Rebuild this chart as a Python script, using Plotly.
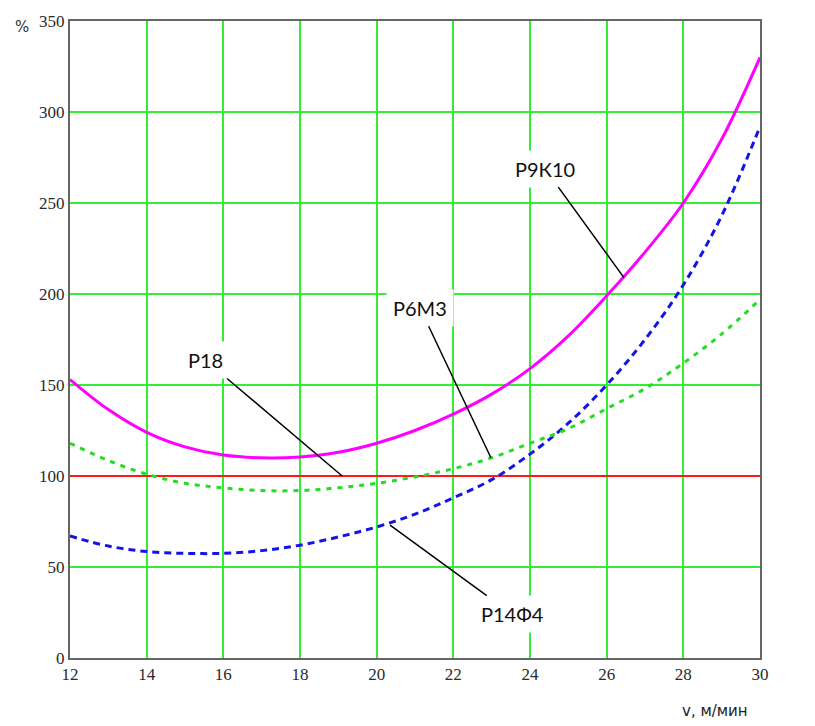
import plotly.graph_objects as go

# Cutting speed, m/min
speed = [12, 13, 14, 15, 16, 17, 18, 19, 20, 21, 22, 23, 24, 25, 26, 27, 28, 29, 30]

# Relative tool life of each high-speed steel grade, % of Р18
p9k10 = [153, 136.5, 124, 116, 111.5, 110, 110.5, 113, 118, 125, 134, 145, 159, 177, 199, 223, 250, 285, 330]
p6m3 = [118, 108.5, 101, 96, 93.5, 92, 92, 93.5, 96, 99.5, 104, 110, 118, 126, 137, 148, 162, 178, 197]
p14f4 = [67, 61.5, 58.5, 57.5, 57.5, 59, 62, 66.5, 72, 79, 88, 98, 112, 129, 150, 175, 205, 243, 292]
p18 = [100] * len(speed)

x_ticks = [12, 14, 16, 18, 20, 22, 24, 26, 28, 30]
y_ticks = [0, 50, 100, 150, 200, 250, 300, 350]

fig = go.Figure()

fig.add_trace(go.Scatter(x=speed, y=p18, mode="lines",
                         line=dict(color="#ff1a1a", width=2), name="Р18"))
fig.add_trace(go.Scatter(x=speed, y=p14f4, mode="lines", line_shape="spline",
                         line=dict(color="#1414e6", width=3, dash="7px,5px"), name="Р14Ф4"))
fig.add_trace(go.Scatter(x=speed, y=p6m3, mode="lines", line_shape="spline",
                         line=dict(color="#22dd22", width=3, dash="5px,6px"), name="Р6М3"))
fig.add_trace(go.Scatter(x=speed, y=p9k10, mode="lines", line_shape="spline",
                         line=dict(color="#ff00ff", width=3), name="Р9К10"))

label_font = dict(family="Lato, Open Sans, sans-serif", size=20, color="#111111")

# Leader-line labels: (text, tip x, tip y, text offset x, text offset y)
labels = [
    ("Р18", 19.1, 100, -137, -116),
    ("Р6М3", 22.98, 110, -71, -150),
    ("Р9К10", 26.45, 209, -79, -109),
    ("Р14Ф4", 20.35, 73, 122, 89),
]
for text, tx, ty, ax, ay in labels:
    fig.add_annotation(x=tx, y=ty, xref="x", yref="y", text=text,
                       showarrow=True, arrowhead=0, arrowwidth=1.5, arrowcolor="#000000",
                       ax=ax, ay=ay, font=label_font, bgcolor="#ffffff", borderpad=6)

tick_font = dict(family="Liberation Serif, DejaVu Serif, serif", size=17, color="#2a2a2a")

fig.add_annotation(x=-0.069, y=0.99, xref="paper", yref="paper", text="%",
                   showarrow=False, xanchor="center", yanchor="middle",
                   font=dict(family="DejaVu Sans, sans-serif", size=15, color="#333333"))
fig.add_annotation(x=0.935, y=-0.083, xref="paper", yref="paper", text="v, м/мин",
                   showarrow=False, xanchor="center", yanchor="middle",
                   font=dict(family="DejaVu Sans, sans-serif", size=15, color="#222222"))

fig.update_xaxes(range=[12, 30], tickvals=x_ticks, ticktext=[str(v) for v in x_ticks],
                 showgrid=True, gridcolor="#33ee33", gridwidth=2,
                 showline=True, linecolor="#666666", linewidth=2, mirror=True,
                 ticks="", tickfont=tick_font, zeroline=False, fixedrange=True)
fig.update_yaxes(range=[0, 350], tickvals=y_ticks, ticktext=[str(v) for v in y_ticks],
                 showgrid=True, gridcolor="#33ee33", gridwidth=2,
                 showline=True, linecolor="#666666", linewidth=2, mirror=True,
                 ticks="", tickfont=tick_font, zeroline=False, fixedrange=True)

fig.update_layout(width=815, height=726, showlegend=False,
                  paper_bgcolor="#ffffff", plot_bgcolor="#ffffff",
                  margin=dict(l=70, r=55, t=13, b=68))

fig.write_html("out.html")
